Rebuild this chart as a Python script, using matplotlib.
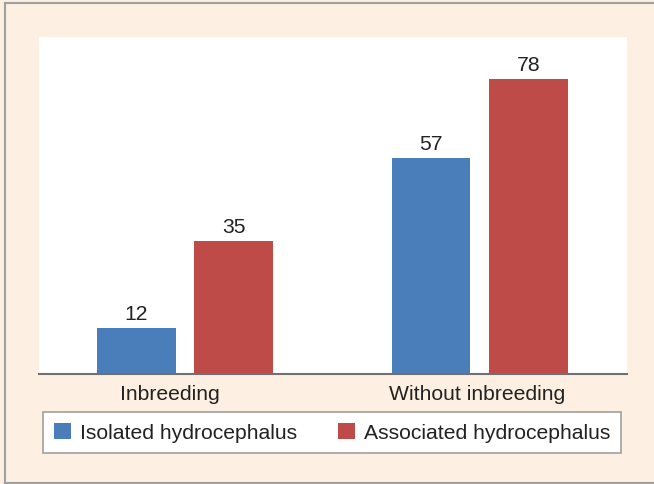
import matplotlib
matplotlib.use("Agg")
import matplotlib.pyplot as plt
from matplotlib.lines import Line2D
import numpy as np

categories = ["Inbreeding", "Without inbreeding"]
isolated = [12, 57]
associated = [35, 78]
series_names = ["Isolated hydrocephalus", "Associated hydrocephalus"]

plt.rcParams['font.family'] = ['Liberation Sans', 'DejaVu Sans']

W, H = 654, 485
fig = plt.figure(figsize=(W/100, H/100), dpi=100)
bg = "#fdf0e2"
fig.patch.set_facecolor(bg)

# figure border (left, top, bottom)
bc = "#a0a0a0"
fig.add_artist(Line2D([5.5/W, 5.5/W], [1 - 4/H, 1 - 483.5/H], transform=fig.transFigure, color=bc, lw=1.5))
fig.add_artist(Line2D([5.5/W, 1.0], [1 - 4/H, 1 - 4/H], transform=fig.transFigure, color=bc, lw=1.5))
fig.add_artist(Line2D([5.5/W, 1.0], [1 - 483.5/H, 1 - 483.5/H], transform=fig.transFigure, color=bc, lw=1.5))

ax = fig.add_axes([39/W, 1 - 374.5/H, (627-39)/W, (374.5-38)/H])
ax.set_facecolor("white")

x = np.arange(len(categories))
bw = 0.268
off = 0.165
blue = "#4a7ebb"
red = "#be4b48"
fs = 15.2
b1 = ax.bar(x - off, isolated, bw, color=blue, label=series_names[0], zorder=2)
b2 = ax.bar(x + off, associated, bw, color=red, label=series_names[1], zorder=2)
for bars, vals in ((b1, isolated), (b2, associated)):
    for rect, v in zip(bars, vals):
        ax.annotate(str(v), (rect.get_x() + rect.get_width()/2, v),
                    xytext=(0, 3.5), textcoords="offset points",
                    ha="center", va="bottom", fontsize=fs, color="#222222")

ax.set_xlim(-0.495, 1.5)
ax.set_ylim(0, 89)
ax.set_xticks(x + np.array([-0.05, -0.007]))
ax.set_xticklabels(categories, fontsize=fs, color="#222222")
ax.tick_params(axis="x", length=0, pad=7.5)
ax.set_yticks([])
for s in ("top", "left", "right"):
    ax.spines[s].set_visible(False)
ax.spines["bottom"].set_color("#707070")
ax.spines["bottom"].set_linewidth(1.5)

leg = fig.legend(handles=[b1, b2], labels=series_names, ncol=2,
                 loc="center",
                 bbox_to_anchor=(332/W, 1 - 433.5/H),
                 fontsize=fs, frameon=True, fancybox=False,
                 edgecolor="#a0a0a0", facecolor="white", framealpha=1,
                 handlelength=0.8, handleheight=0.8, handletextpad=0.42,
                 columnspacing=1.95, borderaxespad=0, borderpad=0.5)
leg.get_frame().set_linewidth(1.2)
for t in leg.get_texts():
    t.set_color("#222222")

fig.savefig("out.png", dpi=100, facecolor=bg)
